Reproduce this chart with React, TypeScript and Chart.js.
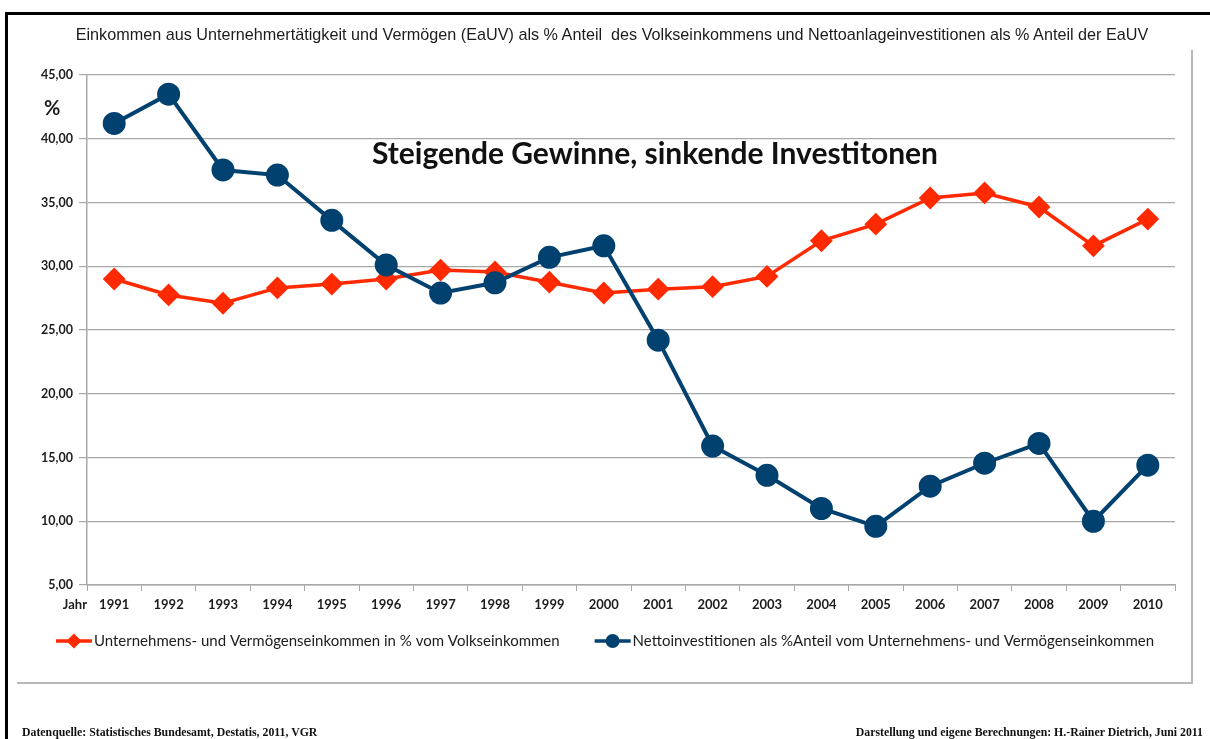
import React, { useEffect, useRef } from "react";
import { Chart, registerables } from "chart.js";

Chart.register(...registerables);

// ---------- data ----------
const years = [
  "1991", "1992", "1993", "1994", "1995", "1996", "1997", "1998", "1999", "2000",
  "2001", "2002", "2003", "2004", "2005", "2006", "2007", "2008", "2009", "2010",
];
const einkommenAnteil = [
  29.0, 27.75, 27.1, 28.3, 28.6, 29.0, 29.7, 29.55, 28.75, 27.9,
  28.2, 28.4, 29.2, 32.0, 33.3, 35.35, 35.75, 34.65, 31.6, 33.7,
];
const investitionenAnteil = [
  41.2, 43.5, 37.55, 37.15, 33.6, 30.1, 27.9, 28.7, 30.7, 31.6,
  24.2, 15.9, 13.6, 11.0, 9.6, 12.75, 14.55, 16.1, 10.0, 14.4,
];
const seriesLabels = [
  "Unternehmens- und Vermögenseinkommen in % vom Volkseinkommen",
  "Nettoinvestitionen als %Anteil vom Unternehmens- und Vermögenseinkommen",
];
const yMin = 5;
const yMax = 45;
const yStep = 5;

const titleText =
  "Einkommen aus Unternehmertätigkeit und Vermögen (EaUV) als % Anteil  des Volkseinkommens und Nettoanlageinvestitionen als % Anteil der EaUV";
const annotationText = "Steigende Gewinne, sinkende Investitonen";
const unitText = "%";
const xAxisName = "Jahr";
const sourceText = "Datenquelle: Statistisches Bundesamt, Destatis, 2011, VGR";
const authorText = "Darstellung und eigene Berechnungen: H.-Rainer Dietrich, Juni 2011";

const RED = "#ff2a00";
const BLUE = "#00416f";
const GRID = "#a8a8a8";
const TEXT = "#1c1c1c";

const legendPlugin = {
  id: "lineLegend",
  afterDraw(chart: any) {
    const ctx = chart.ctx as CanvasRenderingContext2D;
    const area = chart.chartArea;
    ctx.save();
    // axis name "Jahr"
    ctx.font = "bold 13px Lato";
    ctx.fillStyle = TEXT;
    ctx.textAlign = "right";
    ctx.textBaseline = "middle";
    ctx.fillText(xAxisName, area.left, chart.scales.x.top + 20);

    // legend
    ctx.font = "15px Lato";
    const lineLen = 36;
    const gap = 2;
    const itemGap = 35;
    const y = chart.scales.x.bottom + 21;
    const items = [
      { color: RED, style: "diamond", label: seriesLabels[0] },
      { color: BLUE, style: "circle", label: seriesLabels[1] },
    ];
    const widths = items.map((it) => lineLen + gap + ctx.measureText(it.label).width);
    const total = widths.reduce((a, b) => a + b, 0) + itemGap * (items.length - 1);
    let x = chart.width / 2 - total / 2;
    items.forEach((it, i) => {
      ctx.strokeStyle = it.color;
      ctx.fillStyle = it.color;
      ctx.lineWidth = 3.5;
      ctx.beginPath();
      ctx.moveTo(x, y);
      ctx.lineTo(x + lineLen, y);
      ctx.stroke();
      const cx = x + lineLen / 2;
      ctx.beginPath();
      if (it.style === "diamond") {
        const r = 7.5;
        ctx.moveTo(cx - r, y);
        ctx.lineTo(cx, y - r);
        ctx.lineTo(cx + r, y);
        ctx.lineTo(cx, y + r);
        ctx.closePath();
      } else {
        ctx.arc(cx, y, 7, 0, Math.PI * 2);
      }
      ctx.fill();
      ctx.fillStyle = TEXT;
      ctx.textAlign = "left";
      ctx.textBaseline = "middle";
      ctx.fillText(it.label, x + lineLen + gap, y);
      x += widths[i] + itemGap;
    });
    ctx.restore();
  },
};

export default function App() {
  const canvasRef = useRef<HTMLCanvasElement | null>(null);

  useEffect(() => {
    const canvas = canvasRef.current;
    if (!canvas) return;
    const chart = new Chart(canvas, {
      type: "line",
      data: {
        labels: years,
        datasets: [
          {
            label: seriesLabels[0],
            data: einkommenAnteil,
            borderColor: RED,
            backgroundColor: RED,
            borderWidth: 3.5,
            pointStyle: "rectRot",
            pointRadius: 10,
            pointBorderWidth: 2,
            pointBackgroundColor: RED,
            pointBorderColor: RED,
            tension: 0,
            order: 2,
          },
          {
            label: seriesLabels[1],
            data: investitionenAnteil,
            borderColor: BLUE,
            backgroundColor: BLUE,
            borderWidth: 4,
            pointStyle: "circle",
            pointRadius: 10.5,
            pointBorderWidth: 2,
            pointBackgroundColor: BLUE,
            pointBorderColor: BLUE,
            tension: 0,
            order: 1,
          },
        ],
      },
      options: {
        responsive: false,
        maintainAspectRatio: false,
        animation: false,
        layout: { padding: { left: 20, top: 75, right: 35, bottom: 119 } },
        plugins: {
          legend: { display: false },
          title: { display: false },
          tooltip: { enabled: false },
        },
        scales: {
          x: {
            type: "category",
            offset: true,
            grid: {
              offset: true,
              drawOnChartArea: false,
              drawTicks: true,
              tickLength: 6,
              color: GRID,
            },
            border: { color: GRID, width: 1.5 },
            ticks: {
              color: TEXT,
              font: { family: "Lato", size: 13, weight: "bold" },
              padding: 6,
              maxRotation: 0,
              autoSkip: false,
            },
            afterFit(scale: any) {
              scale.height = 35;
            },
          },
          y: {
            min: yMin,
            max: yMax,
            grid: { color: GRID, lineWidth: 1.2, tickLength: 8 },
            border: { color: GRID, width: 1.5 },
            ticks: {
              stepSize: yStep,
              color: TEXT,
              padding: 6,
              font: { family: "Lato", size: 12.5, weight: "bold" },
              callback: (v: any) => Number(v).toFixed(2).replace(".", ","),
            },
            afterFit(scale: any) {
              scale.width = 67;
            },
          },
        },
      },
      plugins: [legendPlugin],
    } as any);
    return () => chart.destroy();
  }, []);

  return (
    <div
      style={{
        position: "fixed",
        left: 0,
        top: 0,
        width: 1210,
        height: 739,
        background: "#ffffff",
        overflow: "hidden",
      }}
    >
      <div style={{ position: "absolute", left: 5, top: 12, width: 1205, height: 3, background: "#000" }} />
      <div style={{ position: "absolute", left: 5, top: 12, width: 3, height: 727, background: "#000" }} />
      <div style={{ position: "absolute", left: 17, top: 682, width: 1176, height: 2, background: "#b8b8b8" }} />
      <div style={{ position: "absolute", left: 1191, top: 50, width: 2, height: 634, background: "#b8b8b8" }} />
      <canvas
        ref={canvasRef}
        width={1210}
        height={739}
        style={{ position: "absolute", left: 0, top: 0, width: 1210, height: 739 }}
      />
      <div
        style={{
          position: "absolute",
          left: 12,
          top: 25,
          width: 1200,
          textAlign: "center",
          fontFamily: "'Liberation Sans', Arial, sans-serif",
          fontSize: 16.2,
          lineHeight: "18px",
          color: TEXT,
          whiteSpace: "pre",
        }}
      >
        {titleText}
      </div>
      <div
        style={{
          position: "absolute",
          left: 44,
          top: 95,
          fontFamily: "Lato, sans-serif",
          fontWeight: "bold",
          fontSize: 20,
          lineHeight: "24px",
          color: TEXT,
        }}
      >
        {unitText}
      </div>
      <div
        style={{
          position: "absolute",
          left: 305,
          top: 134,
          width: 700,
          textAlign: "center",
          fontFamily: "Lato, sans-serif",
          fontWeight: "bold",
          fontSize: 30,
          lineHeight: "36px",
          color: "#111",
          whiteSpace: "nowrap",
        }}
      >
        {annotationText}
      </div>
      <div
        style={{
          position: "absolute",
          left: 22,
          top: 726,
          fontFamily: "'Liberation Serif', 'Times New Roman', serif",
          fontWeight: "bold",
          fontSize: 11.8,
          lineHeight: "13px",
          color: "#111",
          whiteSpace: "nowrap",
        }}
      >
        {sourceText}
      </div>
      <div
        style={{
          position: "absolute",
          right: 7,
          top: 726,
          fontFamily: "'Liberation Serif', 'Times New Roman', serif",
          fontWeight: "bold",
          fontSize: 11.8,
          lineHeight: "13px",
          color: "#111",
          whiteSpace: "nowrap",
        }}
      >
        {authorText}
      </div>
    </div>
  );
}
